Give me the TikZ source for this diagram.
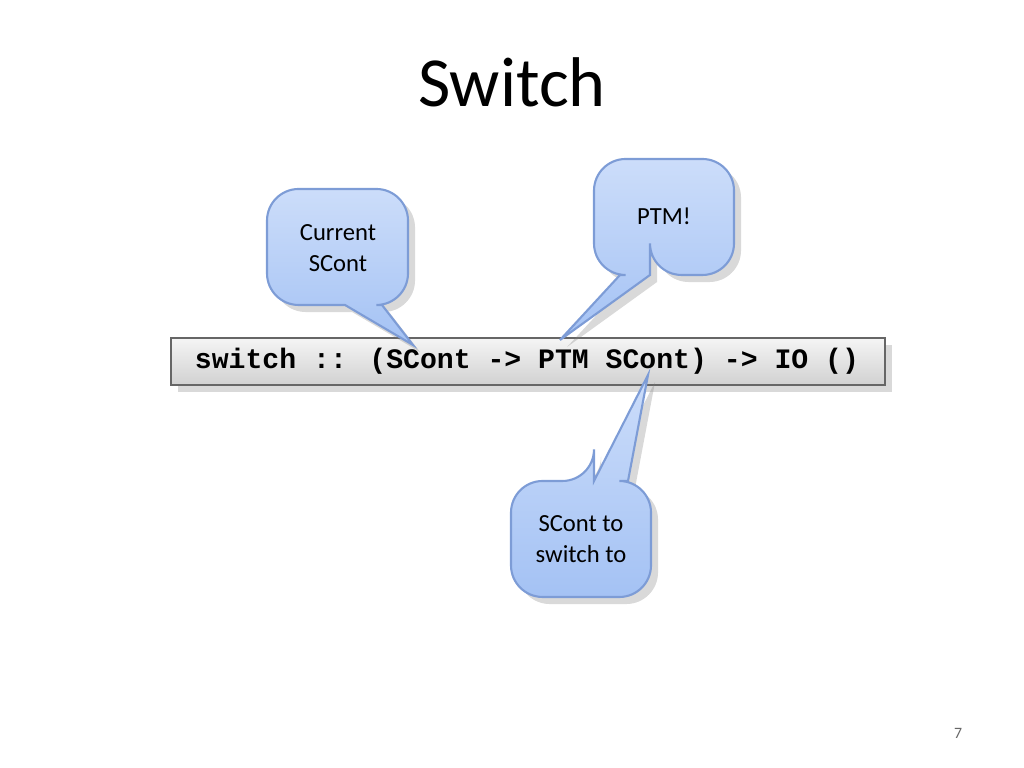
\documentclass[tikz,border=0pt]{standalone}
\usepackage{fontspec}
\setmainfont{Carlito}
\newfontfamily\codefont{Liberation Mono}
\usetikzlibrary{positioning}
\usetikzlibrary{calc}
\usetikzlibrary{shadows}
\definecolor{calloutTop}{HTML}{CCDDFA}
\definecolor{calloutBot}{HTML}{A4C2F4}
\definecolor{calloutLine}{HTML}{7D9CD6}
\begin{document}
\begin{tikzpicture}[x=0.01cm,y=-0.01cm,
	callout/.style={draw=calloutLine,top color=calloutTop,bottom color=calloutBot,
		line width=0.6pt,drop shadow={opacity=0.3,shadow xshift=2pt,shadow yshift=-2pt}},
	label/.style={align=center,font=\fontsize{7}{9}\selectfont},
	code/.style={draw=black!60,top color=black!4,bottom color=black!18,
		drop shadow={opacity=0.3,shadow xshift=2pt,shadow yshift=-2pt}}]
	\useasboundingbox (0,0) rectangle (1024,768);
	\node (title) at (512,82) {\fontsize{20}{24}\selectfont Switch};
	% code line
	\path[code] (171,338) rectangle (885,385);
	\node[font=\codefont\bfseries\fontsize{8}{10}\selectfont] (sig) at (527,361)
		{switch :: (SCont -> PTM SCont) -> IO ()};
	\coordinate (tipA) at (413,345);
	\coordinate (tipB) at (560,340);
	\coordinate (tipC) at (648,375);
	% callouts
	\draw[callout,rounded corners=9] (267,189) -- (408,189) -- (408,305)
		[sharp corners] -- (382,305) -- (tipA) -- (345,305) [rounded corners=9] -- (267,305) -- cycle;
	\node[label] (current) at (338,248) {Current\\SCont};
	\draw[callout,rounded corners=9] (594,159) -- (734,159) -- (734,275) -- (650,275)
		[sharp corners] -- (650,275) -- (tipB) -- (620,275) [rounded corners=9] -- (594,275) -- cycle;
	\node[label] (ptm) at (664,216) {PTM!};
	\draw[callout,rounded corners=9] (511,481) -- (594,481) [sharp corners] -- (594,481)
		-- (tipC) -- (628,481) [rounded corners=9] -- (651,481) -- (651,597) -- (511,597) -- cycle;
	\node[label] (target) at (581,539) {SCont to\\switch to};
	\node[text=black!60,font=\fontsize{4.5}{5}\selectfont] (page) at (958,733) {7};
\end{tikzpicture}
\end{document}
